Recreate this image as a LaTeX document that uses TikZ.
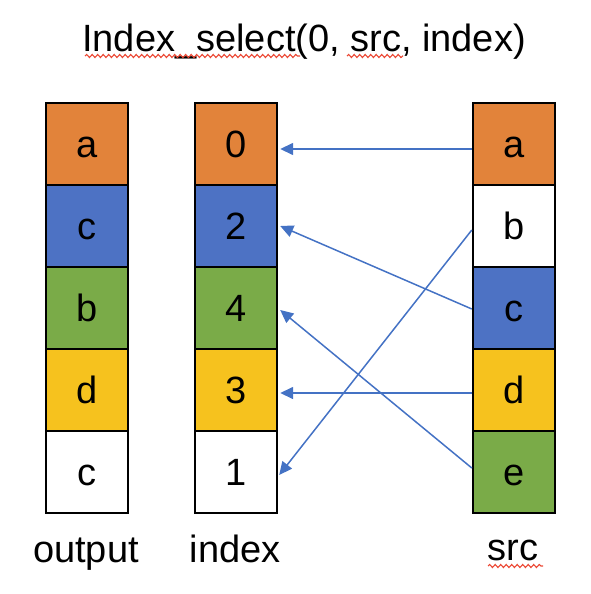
\documentclass[tikz,border=0pt]{standalone}
\usepackage{fontspec}
\setmainfont{Liberation Sans}
\usetikzlibrary{arrows.meta,decorations.pathmorphing}
\definecolor{corange}{RGB}{226,131,58}
\definecolor{cblue}{RGB}{77,114,196}
\definecolor{cgreen}{RGB}{122,171,72}
\definecolor{cyellow}{RGB}{246,194,30}
\definecolor{arrowblue}{RGB}{68,114,196}
\definecolor{squiggle}{RGB}{235,70,50}
\tikzset{
  cell/.style={draw=black, line width=2.4pt, minimum width=82pt, minimum height=82pt,
    inner sep=0pt, text height=27pt, text depth=0pt, font=\fontsize{38}{42}\selectfont},
  lbl/.style={anchor=base, inner sep=0pt, font=\fontsize{38}{44}\selectfont},
  link/.style={draw=arrowblue, line width=1.5pt, -{Triangle[length=13pt,width=12pt]}},
  wavy/.style={draw=squiggle, line width=1.1pt, decorate,
    decoration={snake, amplitude=1.5pt, segment length=5.5pt}}
}
\begin{document}
\begin{tikzpicture}[x=1pt,y=-1pt]
\useasboundingbox (0,0) rectangle (590,594);
% title
\node[lbl] (title) at (304,52) {Index\_select(0, src, index)};
% output column
\node[cell, fill=corange] (o0) at (87,144) {a};
\node[cell, fill=cblue]   (o1) at (87,226) {c};
\node[cell, fill=cgreen]  (o2) at (87,308) {b};
\node[cell, fill=cyellow] (o3) at (87,390) {d};
\node[cell, fill=white]   (o4) at (87,472) {c};
% index column
\node[cell, fill=corange] (i0) at (236,144) {0};
\node[cell, fill=cblue]   (i1) at (236,226) {2};
\node[cell, fill=cgreen]  (i2) at (236,308) {4};
\node[cell, fill=cyellow] (i3) at (236,390) {3};
\node[cell, fill=white]   (i4) at (236,472) {1};
% src column
\node[cell, fill=corange] (s0) at (514,144) {a};
\node[cell, fill=white]   (s1) at (514,226) {b};
\node[cell, fill=cblue]   (s2) at (514,308) {c};
\node[cell, fill=cyellow] (s3) at (514,390) {d};
\node[cell, fill=cgreen]  (s4) at (514,472) {e};
% labels
\node[lbl] (lo) at (86,562) {output};
\node[lbl] (li) at (235,562) {index};
\node[lbl] (ls) at (513,560) {src};
% arrows
\draw[link] ([yshift=-5pt]s0.west) -- ([xshift=2pt,yshift=-5pt]i0.east);
\draw[link] ([yshift=-1pt]s2.west) -- ([xshift=2pt]i1.east);
\draw[link] ([yshift=4pt]s4.west) -- ([xshift=2pt,yshift=-2pt]i2.east);
\draw[link] ([yshift=-3pt]s3.west) -- ([xshift=2pt,yshift=-3pt]i3.east);
\draw[link] ([yshift=-4pt]s1.west) -- ([xshift=1pt,yshift=-3pt]i4.east);
% spell-check squiggles
\path[wavy] (85,56) -- (300,56);
\path[wavy] (347,56) -- (403,56);
\path[wavy] (488,566) -- (543,566);
\end{tikzpicture}
\end{document}
